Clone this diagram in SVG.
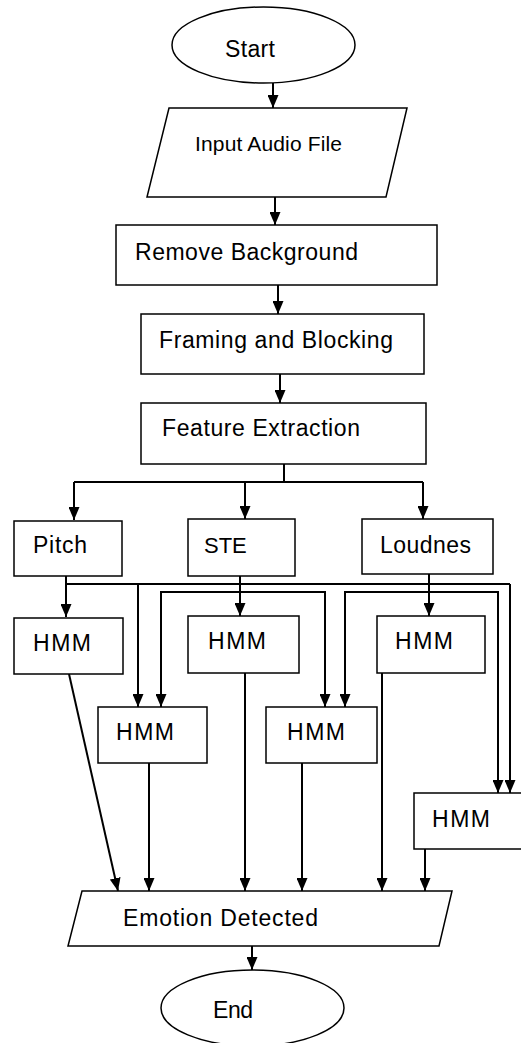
<svg xmlns="http://www.w3.org/2000/svg" width="521" height="1043" viewBox="0 0 521 1043">
<style>
.s{fill:#fff;stroke:#000;stroke-width:1.5}
.t{font-family:"Liberation Sans",Arial,sans-serif;font-size:23px;fill:#000}
.c{fill:none;stroke:#000;stroke-width:2}
</style>
<defs>
<marker id="a" viewBox="0 0 13 11" refX="13" refY="5.5" markerWidth="13" markerHeight="11" markerUnits="userSpaceOnUse" orient="auto">
<path d="M0,0 L13,5.5 L0,11 z" fill="#000"/>
</marker>
</defs>
<rect width="521" height="1043" fill="#fff"/>
<g id="connectors">
<path class="c" d="M273,83 V108" marker-end="url(#a)"/>
<path class="c" d="M275,197 V225" marker-end="url(#a)"/>
<path class="c" d="M278,285 V314" marker-end="url(#a)"/>
<path class="c" d="M280,374 V403" marker-end="url(#a)"/>
<path class="c" d="M284,464 V482 M74,482 H423"/>
<path class="c" d="M74,482 V520" marker-end="url(#a)"/>
<path class="c" d="M245,482 V519" marker-end="url(#a)"/>
<path class="c" d="M423,482 V519" marker-end="url(#a)"/>
<path class="c" d="M66,576 V584 H510"/>
<path class="c" d="M66,584 V617" marker-end="url(#a)"/>
<path class="c" d="M138,584 V707" marker-end="url(#a)"/>
<path class="c" d="M510,584 V793" marker-end="url(#a)"/>
<path class="c" d="M240,576 V616" marker-end="url(#a)"/>
<path class="c" d="M161,707 V592 H325 V707" marker-end="url(#a)"/>
<path class="c" d="M161,600 V707" marker-end="url(#a)"/>
<path class="c" d="M429,574 V616" marker-end="url(#a)"/>
<path class="c" d="M345,707 V592 H498 V793" marker-end="url(#a)"/>
<path class="c" d="M345,600 V707" marker-end="url(#a)"/>
<path class="c" d="M69,674 L118,891" marker-end="url(#a)"/>
<path class="c" d="M149,763 V891" marker-end="url(#a)"/>
<path class="c" d="M245,673 V891" marker-end="url(#a)"/>
<path class="c" d="M302,763 V891" marker-end="url(#a)"/>
<path class="c" d="M382,673 V891" marker-end="url(#a)"/>
<path class="c" d="M425,849 V891" marker-end="url(#a)"/>
<path class="c" d="M252,946 V970" marker-end="url(#a)"/>
</g>
<g id="start"><ellipse class="s" cx="263.5" cy="45" rx="91.5" ry="38"/><text class="t" x="225" y="57" textLength="50">Start</text></g>
<g id="input"><polygon class="s" points="169,108 407,108 386,197 147,197"/><text class="t" x="195" y="151" textLength="147" style="font-size:21px">Input Audio File</text></g>
<g id="remove"><rect class="s" x="116" y="225" width="321" height="60"/><text class="t" x="135" y="260" textLength="223">Remove Background</text></g>
<g id="framing"><rect class="s" x="141" y="314" width="283" height="60"/><text class="t" x="159" y="348" textLength="234">Framing and Blocking</text></g>
<g id="feature"><rect class="s" x="141" y="403" width="285" height="61"/><text class="t" x="162" y="436" textLength="198">Feature Extraction</text></g>
<g id="pitch"><rect class="s" x="14" y="521" width="108" height="55"/><text class="t" x="33" y="553" textLength="54">Pitch</text></g>
<g id="ste"><rect class="s" x="188" y="519" width="107" height="57"/><text class="t" x="204" y="553" style="font-size:22px">STE</text></g>
<g id="loudnes"><rect class="s" x="362" y="519" width="131" height="55"/><text class="t" x="380" y="553" textLength="91">Loudnes</text></g>
<g id="hmm1"><rect class="s" x="14" y="618" width="109" height="56"/><text class="t" x="33" y="651" textLength="58">HMM</text></g>
<g id="hmm3"><rect class="s" x="188" y="616" width="111" height="57"/><text class="t" x="208" y="649" textLength="58">HMM</text></g>
<g id="hmm5"><rect class="s" x="377" y="616" width="108" height="57"/><text class="t" x="395" y="649" textLength="58">HMM</text></g>
<g id="hmm2"><rect class="s" x="98" y="707" width="109" height="56"/><text class="t" x="116" y="740" textLength="58">HMM</text></g>
<g id="hmm4"><rect class="s" x="266" y="707" width="111" height="56"/><text class="t" x="287" y="740" textLength="58">HMM</text></g>
<g id="hmm6"><rect class="s" x="414" y="793" width="110" height="56"/><text class="t" x="432" y="827" textLength="58">HMM</text></g>
<g id="emotion"><polygon class="s" points="82,891 452,891 439,946 68,946"/><text class="t" x="123" y="926" textLength="195">Emotion Detected</text></g>
<g id="end"><ellipse class="s" cx="252.5" cy="1008" rx="91.5" ry="38"/><text class="t" x="213" y="1018" textLength="40">End</text></g>
</svg>
